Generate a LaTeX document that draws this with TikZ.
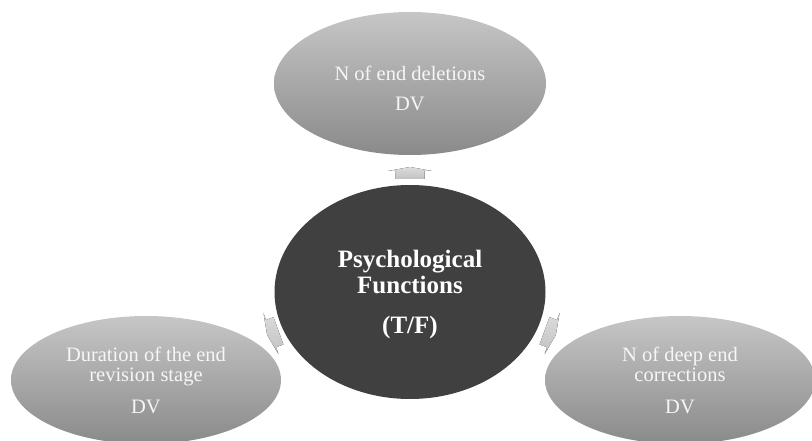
\documentclass[tikz,border=0pt]{standalone}
\usepackage{fontspec}
\setmainfont{Liberation Serif}
\usetikzlibrary{shapes.geometric,calc}

\definecolor{ovaltop}{HTML}{C6C6C6}
\definecolor{ovalbot}{HTML}{8A8A8A}
\definecolor{hubfill}{HTML}{404040}
\definecolor{arrtop}{HTML}{DCDCDC}
\definecolor{arrbot}{HTML}{C2C2C2}
\definecolor{softwhite}{HTML}{F6F6F6}

\tikzset{
  oval/.style={ellipse, inner sep=0pt, outer sep=0pt,
    minimum width=270pt, minimum height=128pt,
    top color=ovaltop, bottom color=ovalbot,
    text=softwhite, align=center,
    font=\fontsize{20.5}{20.5}\selectfont},
  hub/.style={ellipse, inner sep=0pt, outer sep=0pt,
    minimum width=271pt, minimum height=214pt,
    fill=hubfill, text=white, align=center,
    font=\fontsize{25}{26}\selectfont\bfseries},
  pics/radarrow/.style={code={
    \fill[top color=arrtop, bottom color=arrbot]
      (-9,-14.5) -- (-1,-14.5) -- (-1,-22) -- (3,0)
      -- (-1,22) -- (-1,14.5) -- (-9,14.5) -- cycle;
  }}
}

\begin{document}
\begin{tikzpicture}[x=1pt, y=-1pt]
  \useasboundingbox (0,0) rectangle (812,441);

  % outer measures
  \node[oval, minimum width=272pt, minimum height=143pt] (t) at (410,83.5)
    {\rule{0pt}{24pt}N of end deletions\\[9pt]DV};
  \node[oval] (l) at (146,380)
    {Duration of the end\\revision stage\\[11pt]DV};
  \node[oval] (r) at (680,380)
    {N of deep end\\corrections\\[11pt]DV};

  % central factor
  \node[hub] (c) at (410,292)
    {\rule{0pt}{22pt}Psychological\\Functions\\[14pt](T/F)};

  % block arrows from the hub to each measure
  \pic[rotate=90]  at ($(c.north)!0.5!(t.south)$) {radarrow};
  \pic[rotate=200] at ($(c.200)!0.5!(l.20) + (0,-5)$) {radarrow};
  \pic[rotate=-20] at ($(c.-20)!0.5!(r.160) + (0,-5)$) {radarrow};
\end{tikzpicture}
\end{document}
